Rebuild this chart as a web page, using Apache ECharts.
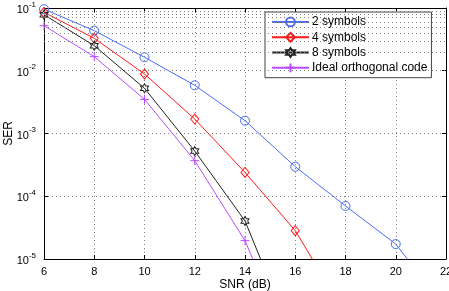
<!DOCTYPE html>
<html><head><meta charset="utf-8">
<script src="https://cdn.jsdelivr.net/npm/echarts@6/dist/echarts.min.js"></script>
<style>html,body{margin:0;padding:0;background:#fff}#c{width:449px;height:291px}</style>
</head><body><div id="c"></div>
<script>
// ---- data ----
var snr = [6, 8, 10, 12, 14, 16, 18, 20, 22];
var ser2 = [0.096, 0.0435, 0.0164, 0.00586, 0.0016, 2.96e-4, 7.0e-5, 1.73e-5, 1.6e-6];
var ser4 = [0.0853, 0.0329, 0.00887, 0.0017, 2.4e-4, 2.83e-5, 1.33e-6];
var ser8 = [0.078, 0.0251, 0.00525, 5.26e-4, 4.04e-5, 4.5e-7];
var serIdeal = [0.0522, 0.0168, 0.0035, 3.69e-4, 1.96e-5, 2.6e-7];
var seriesNames = ['2 symbols', '4 symbols', '8 symbols', 'Ideal orthogonal code'];
var xTicks = [6, 8, 10, 12, 14, 16, 18, 20, 22];
var yDecades = [1e-5, 1e-4, 1e-3, 1e-2, 1e-1];

function pairs(ys) { return ys.map(function (v, i) { return [snr[i], v]; }); }

var minorVals = [];
for (var d = 0; d < yDecades.length - 1; d++) {
  for (var m = 2; m <= 9; m++) minorVals.push(yDecades[d] * m);
}

var hexPath = 'path://M0,-1L0.289,-0.5L0.866,-0.5L0.577,0L0.866,0.5L0.289,0.5L0,1L-0.289,0.5L-0.866,0.5L-0.577,0L-0.866,-0.5L-0.289,-0.5Z';
var plusPath = 'path://M0,-1L0,1M-1,0L1,0';
var colors = ['#4a6cf7', '#ff1a1a', '#222222', '#b94dff'];
var symbols = ['circle', 'diamond', hexPath, plusPath];
var sizes = [[9, 9], [8, 10], [8, 9], [9, 9]];
var datas = [ser2, ser4, ser8, serIdeal];

var gridDot = { show: true, lineStyle: { color: '#808080', width: 1, type: [1, 3] } };
var font = 'Liberation Sans';

var series = datas.map(function (ys, i) {
  return {
    name: seriesNames[i], type: 'line', data: pairs(ys), clip: true,
    symbol: symbols[i], symbolSize: sizes[i], showAllSymbol: true,
    lineStyle: { color: colors[i], width: 1 },
    itemStyle: { color: 'none', borderColor: colors[i], borderWidth: 1 },
    z: 3, animation: false
  };
});
series.unshift({
  name: 'minor', type: 'line', data: [], z: 1, animation: false,
  markLine: {
    silent: true, symbol: ['none', 'none'], label: { show: false }, animation: false,
    lineStyle: { color: '#808080', width: 1, type: [1, 3] },
    data: minorVals.map(function (v) { return { yAxis: v }; })
  }
});

var yLabel = {
  fontFamily: font, fontSize: 11, color: '#000', margin: 8,
  formatter: function (v) { return '{b|10}{s|' + Math.round(Math.log10(v)) + '}'; },
  rich: {
    b: { fontSize: 11, fontFamily: font, color: '#000', verticalAlign: 'bottom', padding: [0, 0, 0, 0] },
    s: { fontSize: 8, fontFamily: font, color: '#000', verticalAlign: 'bottom', padding: [0, 0, 7, 0] }
  }
};

var chart = echarts.init(document.getElementById('c'), null, { renderer: 'canvas' });
chart.setOption({
  animation: false,
  backgroundColor: '#fff',
  grid: { left: 44, right: 3, top: 8, bottom: 32, containLabel: false, outerBoundsMode: 'none' },
  legend: {
    data: seriesNames, orient: 'vertical', left: 265, top: 12,
    backgroundColor: '#fff', borderColor: '#444', borderWidth: 1,
    padding: [3, 4, 3, 6], itemWidth: 37, itemHeight: 11, itemGap: 1.5,
    textStyle: { fontFamily: font, fontSize: 12, color: '#000', padding: [0, 0, 0, -2] }
  },
  xAxis: [{
    type: 'value', min: 6, max: 22, interval: 2, position: 'bottom',
    name: 'SNR (dB)', nameLocation: 'middle', nameGap: 20, nameMoveOverlap: false,
    nameTextStyle: { fontFamily: font, fontSize: 12, color: '#000' },
    axisLine: { lineStyle: { color: '#000', width: 1 } },
    axisTick: { inside: true, length: 4, lineStyle: { color: '#000' } },
    axisLabel: { fontFamily: font, fontSize: 11, color: '#000', margin: 7,
      formatter: function (v) { return xTicks.indexOf(v) >= 0 ? String(v) : ''; } },
    splitLine: gridDot
  }, {
    type: 'value', min: 6, max: 22, interval: 2, position: 'top',
    axisLine: { lineStyle: { color: '#000', width: 1 } },
    axisTick: { inside: true, length: 4, lineStyle: { color: '#000' } },
    axisLabel: { show: false }, splitLine: { show: false }
  }],
  yAxis: [{
    type: 'log', logBase: 10, min: yDecades[0], max: yDecades[yDecades.length - 1], position: 'left',
    name: 'SER', nameLocation: 'middle', nameGap: 29, nameRotate: 90, nameMoveOverlap: false,
    nameTextStyle: { fontFamily: font, fontSize: 12, color: '#000' },
    axisLine: { show: true, lineStyle: { color: '#000', width: 1 } },
    axisTick: { show: true, inside: true, length: 4, lineStyle: { color: '#000' } },
    axisLabel: yLabel,
    splitLine: gridDot
  }, {
    type: 'log', logBase: 10, min: yDecades[0], max: yDecades[yDecades.length - 1], position: 'right',
    axisLine: { show: true, lineStyle: { color: '#000', width: 1 } },
    axisTick: { show: true, inside: true, length: 4, lineStyle: { color: '#000' } },
    axisLabel: { show: false }, splitLine: { show: false }
  }],
  series: series
});
</script></body></html>
